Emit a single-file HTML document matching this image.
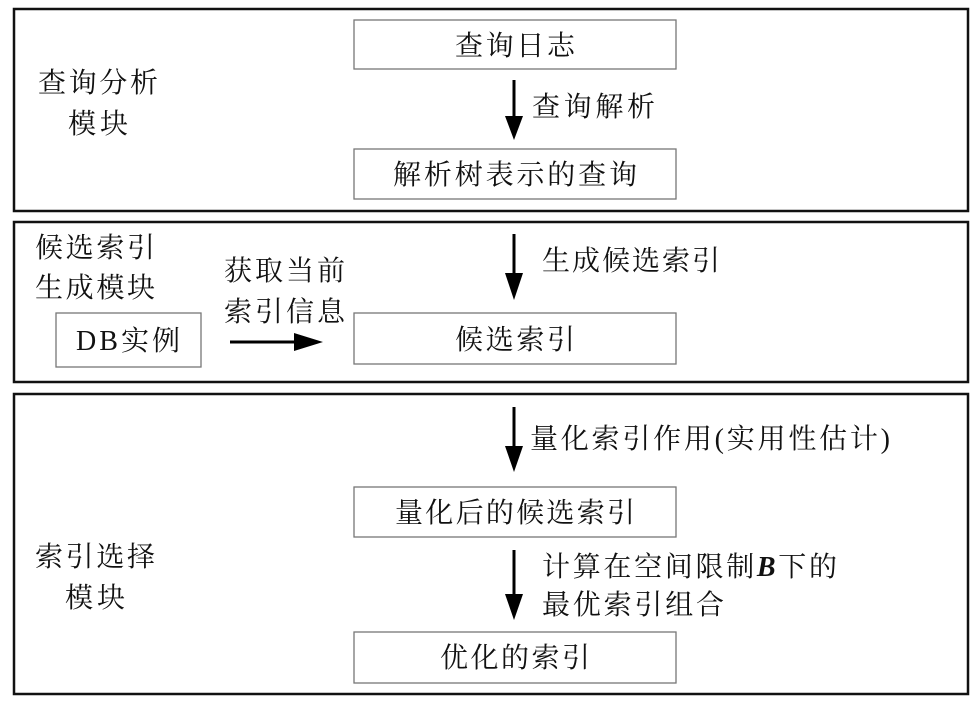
<!DOCTYPE html>
<html><head><meta charset="utf-8"><style>
html,body{margin:0;padding:0;background:#fff;}
svg{display:block;}
text{font-family:"Liberation Serif","Noto Serif CJK SC","Noto Sans CJK SC",serif;font-size:28px;fill:#111;}
</style></head><body>
<svg width="973" height="706" viewBox="0 0 973 706" xmlns="http://www.w3.org/2000/svg">
<defs><marker id="a" markerWidth="10" markerHeight="10" refX="0" refY="0" orient="auto" markerUnits="userSpaceOnUse" viewBox="-1 -10 20 20"></marker></defs>
<g fill="none" stroke="#111" stroke-width="2.5">
<rect x="14" y="9" width="954" height="202"/>
<rect x="14" y="222" width="954" height="160"/>
<rect x="14" y="394" width="954" height="300"/>
</g>
<g fill="#fff" stroke="#777" stroke-width="1.3">
<rect x="354" y="20" width="322" height="49"/>
<rect x="354" y="149" width="322" height="50"/>
<rect x="56" y="313" width="145" height="54"/>
<rect x="354" y="313" width="322" height="51"/>
<rect x="354" y="487" width="322" height="50"/>
<rect x="354" y="632" width="322" height="51"/>
</g>
<g stroke="#000" stroke-width="3">
<line x1="514" y1="80" x2="514" y2="118"/>
<line x1="514" y1="234" x2="514" y2="275"/>
<line x1="514" y1="407" x2="514" y2="448"/>
<line x1="514" y1="550" x2="514" y2="596"/>
<line x1="230" y1="342" x2="296" y2="342"/>
</g>
<g fill="#000">
<polygon points="505,116 523,116 514,140"/>
<polygon points="505,273 523,273 514,300"/>
<polygon points="505,446 523,446 514,472"/>
<polygon points="505,594 523,594 514,620"/>
<polygon points="294,333 294,351 323,342"/>
</g>
<text x="515" y="55" text-anchor="middle" textLength="120">查询日志</text>
<text x="532" y="116" textLength="123">查询解析</text>
<text x="515" y="184" text-anchor="middle" textLength="244">解析树表示的查询</text>
<text x="38" y="92" textLength="120">查询分析</text>
<text x="68" y="133" textLength="60">模块</text>
<text x="35" y="257" textLength="120">候选索引</text>
<text x="35" y="297" textLength="120">生成模块</text>
<text x="224" y="280" textLength="121">获取当前</text>
<text x="224" y="321" textLength="121">索引信息</text>
<text x="128" y="350" text-anchor="middle" textLength="104">DB实例</text>
<text x="542" y="270" textLength="178">生成候选索引</text>
<text x="515" y="349" text-anchor="middle" textLength="120">候选索引</text>
<text x="530" y="448" textLength="360">量化索引作用(实用性估计)</text>
<text x="515" y="522" text-anchor="middle" textLength="240">量化后的候选索引</text>
<text x="542" y="576" textLength="295">计算在空间限制<tspan font-style="italic" font-weight="bold">B</tspan>下的</text>
<text x="542" y="614" textLength="182">最优索引组合</text>
<text x="515" y="667" text-anchor="middle" textLength="150">优化的索引</text>
<text x="35" y="566" textLength="120">索引选择</text>
<text x="65" y="607" textLength="60">模块</text>
</svg>
</body></html>
